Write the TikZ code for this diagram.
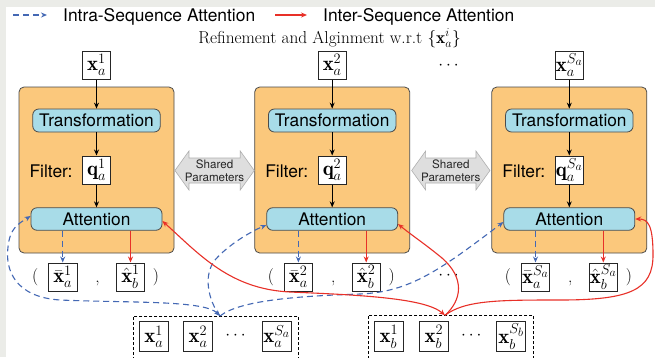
\documentclass[tikz,border=0pt]{standalone}
\usepackage{amsmath}
\usepackage{fontspec}
\newfontfamily\hvfont{TeX Gyre Heros}
\usetikzlibrary{arrows.meta,calc}

\definecolor{pagegray}{RGB}{235,236,232}
\definecolor{blockfill}{RGB}{251,200,124}
\definecolor{cellfill}{RGB}{168,220,232}
\definecolor{edgegray}{RGB}{75,75,75}
\definecolor{intrablue}{RGB}{68,104,180}
\definecolor{interred}{RGB}{232,48,40}
\definecolor{sharedfill}{RGB}{222,222,222}
\definecolor{sharededge}{RGB}{175,175,175}

\begin{document}
\begin{tikzpicture}[x=1pt,y=-1pt,
  font=\fontsize{17.28}{21}\selectfont,
  block/.style={draw=edgegray, line width=0.8pt, fill=blockfill, rounded corners=5pt,
    minimum width=155pt, minimum height=166pt, inner sep=0pt},
  cell/.style={draw=edgegray, line width=0.8pt, fill=cellfill, rounded corners=6pt,
    font=\hvfont\fontsize{17.3}{20}\selectfont, inner sep=0pt},
  vecbox/.style={draw=black!85, line width=0.7pt, fill=white, minimum width=28.5pt,
    minimum height=28.3pt, inner sep=0.8pt, font=\fontsize{20.74}{24}\selectfont},
  botbox/.style={vecbox, minimum width=29pt, minimum height=30pt},
  grp/.style={draw=black, line width=0.6pt, dash pattern=on 3pt off 2pt,
    minimum width=165pt, minimum height=44pt, inner sep=0pt},
  flow/.style={-{Stealth[length=6pt,width=5pt]}, line width=1pt, black},
  intra/.style={draw=intrablue, line width=1.1pt, dash pattern=on 6pt off 4pt,
    -{Stealth[length=6pt,width=5pt]}},
  inter/.style={draw=interred, line width=1.1pt, -{Stealth[length=6pt,width=5pt]}},
  legendtext/.style={font=\hvfont\fontsize{17.4}{21}\selectfont, inner sep=0pt},
  sharedtext/.style={align=center, inner sep=0pt, text=black!85,
    font=\hvfont\fontsize{11.6}{12.6}\selectfont},
]

% canvas: light frame on the top and left, white drawing area
\useasboundingbox (0,0) rectangle (655,357);
\clip (0,0) rectangle (655,357);
\fill[pagegray] (0,0) rectangle (655,357);
\fill[white] (6,7) rectangle (655,357);

% legend
\coordinate (lgA0) at (13,15);
\coordinate (lgA1) at (47,15);
\draw[intra] (lgA0) -- (lgA1);
\node[legendtext, anchor=base west] (lgA) at (63,21.7) {Intra-Sequence Attention};
\coordinate (lgB0) at (275,15);
\coordinate (lgB1) at (307,15);
\draw[inter] (lgB0) -- (lgB1);
\node[legendtext, anchor=base west] (lgB) at (323,21.7) {Inter-Sequence Attention};

% title
\node[anchor=base, inner sep=0pt] (ttl) at (329.5,43)
  {Refinement and Alginment w.r.t $\{\mathbf{x}_a^i\}$};

% the three refinement blocks
\foreach \k/\cx/\s in {1/96.5/1, 2/332.2/2, 3/569.3/{S_a}} {
  \node[block] (blk\k) at (\cx,170) {};
  \node[vecbox] (in\k) at (\cx,65) {$\mathbf{x}_a^{\s}$};
  \node[cell, minimum width=127.5pt, minimum height=23pt] (tr\k) at (\cx,120.5) {Transformation};
  \node[vecbox] (q\k) at (\cx,170) {$\mathbf{q}_a^{\s}$};
  \node[legendtext, anchor=base east] (fl\k) at ({\cx-23.8},177.7) {Filter:};
  \node[cell, minimum width=131pt, minimum height=22.5pt] (at\k) at (\cx,219) {Attention};
  \draw[flow] (in\k) -- (tr\k);
  \draw[flow] (tr\k) -- (q\k);
  \draw[flow] (q\k) -- (at\k);
  % outputs of the block
  \node[inner sep=0pt] (lp\k) at ({\cx-61.3},277.5) {$($};
  \node[vecbox] (xb\k) at ({\cx-33.8},277) {$\bar{\mathbf{x}}_a^{\s}$};
  \node[inner sep=0pt, anchor=base] (cm\k) at ({\cx+1},282) {,};
  \node[vecbox] (xh\k) at ({\cx+34},277) {$\hat{\mathbf{x}}_b^{\s}$};
  \node[inner sep=0pt] (rp\k) at ({\cx+59.5},277.5) {$)$};
  \draw[intra] (xb\k |- at\k.south) -- (xb\k);
  \draw[inter] (xh\k |- at\k.south) -- (xh\k);
}

% ellipses between the second and third block
\node[anchor=base, inner sep=0pt] (dt1) at (450,69.3) {$\cdots$};
\node[anchor=base, inner sep=0pt] (dt2) at (450,279.3) {$\cdots$};

% shared parameter arrows between neighbouring blocks
\foreach \n/\c/\L in {1/214.6/79.3, 2/450.8/78.3} {
  \filldraw[fill=sharedfill, draw=sharededge, line width=0.6pt]
    ({\c-\L/2},170.5) -- ({\c-\L/2+14},151) -- ({\c-\L/2+14},158)
    -- ({\c+\L/2-14},158) -- ({\c+\L/2-14},151) -- ({\c+\L/2},170.5)
    -- ({\c+\L/2-14},190) -- ({\c+\L/2-14},183) -- ({\c-\L/2+14},183)
    -- ({\c-\L/2+14},190) -- cycle;
  \node[sharedtext] (sp\n) at (\c,170.5) {Shared\\Parameters};
}

% input sequences a and b
\node[grp] (grpA) at (215.8,338) {};
\node[botbox] (ba1) at (153.8,336.7) {$\mathbf{x}_a^1$};
\node[botbox] (ba2) at (198,336.7) {$\mathbf{x}_a^2$};
\node[anchor=base, inner sep=0pt] (bad) at (237,339.3) {$\cdots$};
\node[botbox] (ba3) at (276.7,336.7) {$\mathbf{x}_a^{S_a}$};

\node[grp] (grpB) at (450.8,337.3) {};
\node[botbox] (bb1) at (388.8,336.7) {$\mathbf{x}_b^1$};
\node[botbox] (bb2) at (433.8,336.7) {$\mathbf{x}_b^2$};
\node[anchor=base, inner sep=0pt] (bbd) at (472.7,339.3) {$\cdots$};
\node[botbox] (bb3) at (511.3,336.7) {$\mathbf{x}_b^{S_b}$};

\coordinate (ja) at (220,316);
\coordinate (jb) at (445,315.3);

% intra-sequence attention links from sequence a
\draw[intra, {Stealth[length=6pt,width=5pt]}-{Stealth[length=6pt,width=5pt]}]
  (ja) .. controls (205,300) and (130,303) .. (60,300)
  .. controls (15,297) and (5,270) .. (8,247)
  .. controls (10,228) and (18,224) .. ($(at1.west)+(0,-3)$);
\draw[intra] (ja) .. controls (208,300) and (203,275) .. (215,260)
  .. controls (228,245) and (250,232) .. ($(at2.west)+(0,6)$);
\draw[intra] (ja) .. controls (240,300) and (300,296) .. (360,294)
  .. controls (410,292) and (440,270) .. ($(at3.west)+(0,3)$);

% inter-sequence attention links from sequence b
\draw[inter, {Stealth[length=6pt,width=5pt]}-{Stealth[length=6pt,width=5pt]}]
  (jb) .. controls (425,298) and (360,295) .. (290,292)
  .. controls (230,289) and (200,255) .. ($(at1.east)+(0,2)$);
\draw[inter] (jb) .. controls (462,300) and (465,278) .. (442,258)
  .. controls (425,244) and (410,234) .. ($(at2.east)+(0,5)$);
\draw[inter] (jb) .. controls (465,300) and (500,300) .. (560,300)
  .. controls (630,300) and (653,290) .. (653,255)
  .. controls (653,225) and (648,219) .. (at3.east);

\end{tikzpicture}
\end{document}
